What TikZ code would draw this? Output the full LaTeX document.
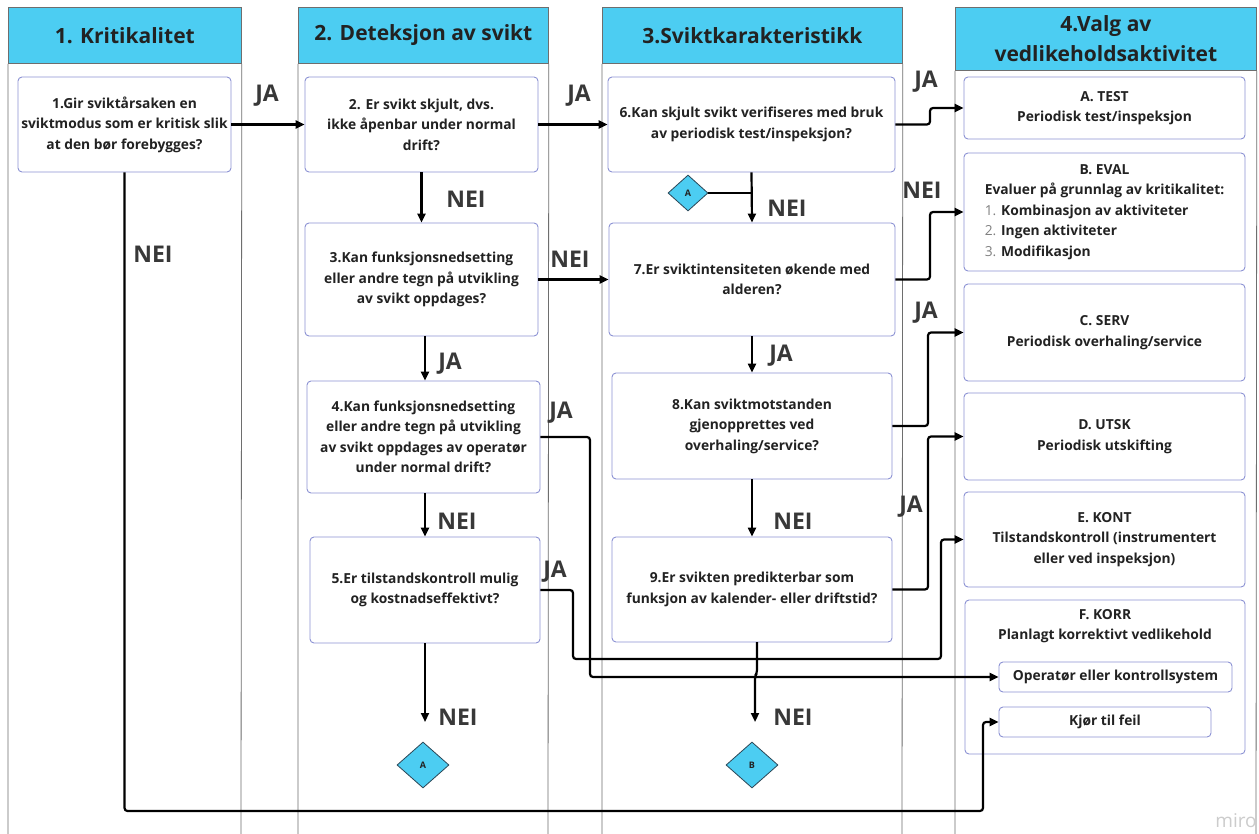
\documentclass[tikz,border=0pt]{standalone}
\usepackage{fontspec}
\setmainfont{Open Sans}
\usetikzlibrary{arrows.meta,shapes.geometric}
\definecolor{hdr}{HTML}{4CCDF2}
\definecolor{bord}{HTML}{8C92D4}
\definecolor{txt}{HTML}{222222}
\definecolor{lane}{HTML}{6E6E6E}
\definecolor{dborder}{HTML}{2B4656}
\newlength\evw
\begin{document}
\settowidth{\evw}{\fontsize{13.8}{20.5}\selectfont\bfseries Evaluer på grunnlag av kritikalitet:}%
\begin{tikzpicture}[x=1pt,y=-1pt,
  qbox/.style={draw=bord, line width=0.9pt, fill=white, rounded corners=4pt, align=center,
    font=\fontsize{13.8}{20.5}\selectfont\bfseries, text=txt, inner sep=2pt},
  hdrbox/.style={draw=lane, fill=hdr, line width=0.8pt, anchor=north west, align=center,
    font=\fontsize{21}{30}\selectfont\bfseries, text=txt, inner sep=0pt},
  lanel/.style={draw=lane, line width=0.8pt},
  lbl/.style={font=\fontsize{23}{23}\selectfont\bfseries, text=txt!90, inner sep=0pt},
  conn/.style={line width=2.2pt, rounded corners=3pt},
  arr/.style={conn, -{Triangle[length=9pt,width=8pt]}},
  dia/.style={diamond, draw=dborder, line width=0.8pt, fill=hdr, minimum width=52pt, minimum height=46pt,
    aspect=1.13, inner sep=0pt, font=\fontsize{9}{9}\selectfont\bfseries, text=txt}
]
\useasboundingbox (0,0) rectangle (1259,834);
\fill[white] (0,0) rectangle (1259,834);

% lanes
\node[hdrbox, minimum width=233pt, minimum height=56pt] (h1) at (8,7) {1. Kritikalitet};
\node[hdrbox, minimum width=250pt, minimum height=56pt] (h2) at (298,7) {2. Deteksjon av svikt};
\node[hdrbox, minimum width=300pt, minimum height=56pt] (h3) at (602,7) {3.Sviktkarakteristikk};
\node[hdrbox, minimum width=301pt, minimum height=63pt] (h4) at (955,7) {4.Valg av\\vedlikeholdsaktivitet};
\draw[lanel] (h1.south west) -- (8,834) (h1.south east) -- (241,834);
\draw[lanel] (h2.south west) -- (298,834) (h2.south east) -- (548,834);
\draw[lanel] (h3.south west) -- (602,834) (h3.south east) -- (902,834);
\draw[lanel] (h4.south west) -- (955,834) (h4.south east) -- (1256,834);

% question boxes
\node[qbox, minimum width=213pt, minimum height=95pt] (b1) at (124.5,124.5) {1.Gir sviktårsaken en\\sviktmodus som er kritisk slik\\at den bør forebygges?};
\node[qbox, minimum width=233pt, minimum height=95pt] (b2) at (421.5,124.5) {2. Er svikt skjult, dvs.\\ikke åpenbar under normal\\drift?};
\node[qbox, minimum width=287pt, minimum height=95pt] (b6) at (751.5,124.5) {6.Kan skjult svikt verifiseres med bruk\\av periodisk test/inspeksjon?};
\node[qbox, minimum width=233pt, minimum height=113pt] (b3) at (421.5,279.5) {3.Kan funksjonsnedsetting\\eller andre tegn på utvikling\\av svikt oppdages?};
\node[qbox, minimum width=286pt, minimum height=113pt] (b7) at (752,279.5) {7.Er sviktintensiteten økende med\\alderen?};
\node[qbox, minimum width=233pt, minimum height=112pt] (b4) at (423.5,437) {4.Kan funksjonsnedsetting\\eller andre tegn på utvikling\\av svikt oppdages av operatør\\under normal drift?};
\node[qbox, minimum width=280pt, minimum height=106pt] (b8) at (752,426) {8.Kan sviktmotstanden\\gjenopprettes ved\\overhaling/service?};
\node[qbox, minimum width=230pt, minimum height=106pt] (b5) at (425,590) {5.Er tilstandskontroll mulig\\og kostnadseffektivt?};
\node[qbox, minimum width=280pt, minimum height=105pt] (b9) at (752,589.5) {9.Er svikten predikterbar som\\funksjon av kalender- eller driftstid?};

% activity boxes
\node[qbox, minimum width=281pt, minimum height=62pt] (ta) at (1104.5,108) {A. TEST\\Periodisk test/inspeksjon};
\node[qbox, minimum width=281pt, minimum height=118pt] (tb) at (1104.5,212) {B. EVAL\\Evaluer på grunnlag av kritikalitet:\\
  \makebox[\evw][l]{{\mdseries\color{gray}1.} Kombinasjon av aktiviteter}\\
  \makebox[\evw][l]{{\mdseries\color{gray}2.} Ingen aktiviteter}\\
  \makebox[\evw][l]{{\mdseries\color{gray}3.} Modifikasjon}};
\node[qbox, minimum width=281pt, minimum height=97pt] (tc) at (1104.5,332.5) {C. SERV\\Periodisk overhaling/service};
\node[qbox, minimum width=281pt, minimum height=87pt] (td) at (1104.5,436.5) {D. UTSK\\Periodisk utskifting};
\node[qbox, minimum width=281pt, minimum height=95pt] (te) at (1104.5,539.5) {E. KONT\\Tilstandskontroll (instrumentert\\eller ved inspeksjon)};
\node[qbox, minimum width=280pt, minimum height=154pt] (tf) at (1105,677) {};
\node[align=center, font=\fontsize{13.8}{20.5}\selectfont\bfseries, text=txt, inner sep=0pt] (tft) at (1105,626) {F. KORR\\Planlagt korrektivt vedlikehold};
\node[qbox, minimum width=233pt, minimum height=30pt] (fo) at (1115.5,677) {Operatør eller kontrollsystem};
\node[qbox, minimum width=212pt, minimum height=30pt] (fk) at (1105,722) {Kjør til feil};

% diamonds
\node[dia, minimum width=40pt, minimum height=36pt] (dA1) at (688,193) {A};
\node[dia] (dA2) at (423,765) {A};
\node[dia] (dB) at (752,765) {B};

% connectors
\draw[arr] (b1.east) -- (b2.west);
\draw[arr] (b2.east) -- (b6.west);
\draw[arr] (b6.east) -- (930,124.5) |- (ta.west);
\draw[arr] (b2.south) -- (b3.north);
\draw[conn] (dA1.east) -- (dA1.east -| b6.south);
\draw[arr] (b6.south) -- (b7.north);
\draw[arr] (b3.east) -- (b7.west);
\draw[arr] (b7.east) -- (930,279.5) |- (tb.west);
\draw[arr] (425,336) -- (b4.north -| 425,0);
\draw[arr] (b7.south) -- (b8.north);
\draw[arr] (b8.east) -- (928,426) |- (tc.west);
\draw[arr] (b4.east) -- (590,437) -- (590,677) -- (fo.west);
\draw[arr] (425,493) -- (b5.north);
\draw[arr] (b8.south) -- (b9.north);
\draw[arr] (b5.east) -- (573,590) -- (573,659) -- (941,659) |- (te.west);
\draw[arr] (b9.east) -- (928,589.5) |- (td.west);
\draw[arr] (b5.south) -- (425,722);
\draw[arr] (757,642) -- (757,673) -- (755,676) -- (755,722);
\draw[arr] (b1.south) -- (124.5,811) -- (983,811) |- (fk.west);

% labels
\node[lbl] (l1) at (267,96) {JA};
\node[lbl] (l2) at (579,96) {JA};
\node[lbl] (l3) at (926,82) {JA};
\node[lbl] (l4) at (466,199) {NEI};
\node[lbl] (l5) at (787,208) {NEI};
\node[lbl] (l6) at (922,190) {NEI};
\node[lbl] (l7) at (153,254) {NEI};
\node[lbl] (l8) at (570,259) {NEI};
\node[lbl] (l9) at (450,364) {JA};
\node[lbl] (l10) at (781,356) {JA};
\node[lbl] (l11) at (926,313) {JA};
\node[lbl] (l12) at (561,413) {JA};
\node[lbl] (l13) at (457,521) {NEI};
\node[lbl] (l14) at (793,521) {NEI};
\node[lbl] (l15) at (555,572) {JA};
\node[lbl] (l16) at (911,507) {JA};
\node[lbl] (l17) at (458,717) {NEI};
\node[lbl] (l18) at (793,717) {NEI};
\node[font=\fontsize{19}{19}\selectfont, text=gray!40, inner sep=0pt] (miro) at (1236,821) {miro};
\end{tikzpicture}
\end{document}
